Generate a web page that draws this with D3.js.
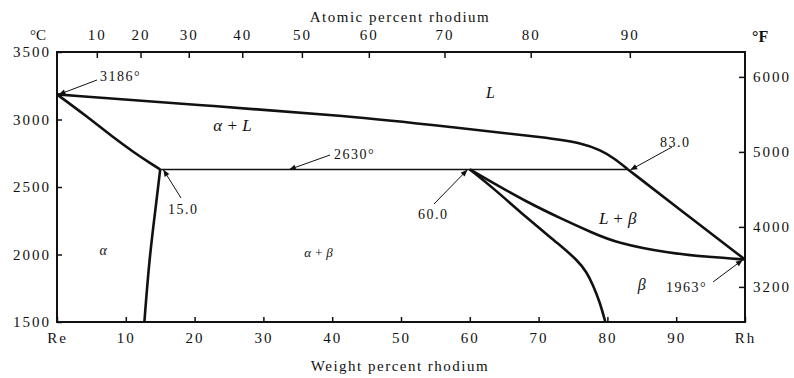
<!DOCTYPE html>
<html>
<head>
<meta charset="utf-8">
<script src="https://cdn.jsdelivr.net/npm/d3@7"></script>
<style>
  body { margin: 0; background: #fff; }
  svg text { font-family: "Liberation Serif", "DejaVu Serif", serif; fill: #111; }
</style>
</head>
<body>
<div id="chart"></div>
<script>
// phase boundaries, [weight % Rh, temperature °C]
var liquidusLeft = [[0, 3186], [21, 3106], [42.6, 3026], [57.2, 2944], [71.8, 2863], [76.1, 2826], [79.0, 2774], [80.9, 2715], [83.0, 2630]];
var liquidusRight = [[83.0, 2630], [91.1, 2310], [100, 1963]];
var alphaSolidus = [[0, 3186], [4.1, 3033], [8.1, 2870], [11.3, 2752], [13.5, 2678], [15.0, 2630]];
var alphaSolvus = [[15.0, 2630], [14.3, 2330], [13.4, 1959], [12.7, 1500]];
var betaSolidus = [[60.0, 2630], [63.4, 2530], [68.3, 2389], [73.1, 2270], [77.9, 2159], [81.4, 2085], [88.7, 2011], [94.9, 1981], [100, 1963]];
var betaSolvus = [[60.0, 2630], [63.4, 2493], [68.3, 2270], [73.1, 2070], [75.6, 1959], [77.0, 1870], [77.9, 1774], [78.9, 1648], [79.7, 1500]];
var peritectic = [[15.0, 2630], [83.0, 2630]];

var tempTicks = [1500, 2000, 2500, 3000, 3500];
var weightTicks = [0, 10, 20, 30, 40, 50, 60, 70, 80, 90, 100];
var atomicTicks = [10, 20, 30, 40, 50, 60, 70, 80, 90];
var fahrenheitTicks = [3200, 4000, 5000, 6000];

var massRe = 186.2, massRh = 102.9;

var width = 794, height = 378;
var svg = d3.select("#chart").append("svg")
  .attr("width", width)
  .attr("height", height);

var x = d3.scaleLinear().domain([0, 100]).range([57, 745]);
var y = d3.scaleLinear().domain([1500, 3500]).range([322, 52]);

// atomic % -> weight %
function atToWt(a) {
  return 100 * a * massRh / (a * massRh + (100 - a) * massRe);
}
function fToC(f) { return (f - 32) * 5 / 9; }

var tickFont = "15px";

// bottom axis: weight percent
var axBottom = svg.append("g")
  .attr("transform", "translate(0," + y(1500) + ")")
  .call(d3.axisBottom(x).tickValues(weightTicks)
    .tickSizeInner(-5).tickSizeOuter(0).tickPadding(10)
    .tickFormat(function (d) { return d == 0 ? "Re" : d == 100 ? "Rh" : d; }));

// left axis: °C
var axLeft = svg.append("g")
  .attr("transform", "translate(" + x(0) + ",0)")
  .call(d3.axisLeft(y).tickValues(tempTicks)
    .tickSizeInner(-5).tickSizeOuter(0).tickPadding(6)
    .tickFormat(d3.format("d")));

// top axis: atomic percent
var axTop = svg.append("g")
  .attr("transform", "translate(0," + y(3500) + ")")
  .call(d3.axisTop(x).tickValues(atomicTicks.map(atToWt))
    .tickSizeInner(-6).tickSizeOuter(0).tickPadding(12)
    .tickFormat(function (d, i) { return atomicTicks[i]; }));

// right axis: °F
var axRight = svg.append("g")
  .attr("transform", "translate(" + x(100) + ",0)")
  .call(d3.axisRight(y).tickValues(fahrenheitTicks.map(fToC))
    .tickSizeInner(-6).tickSizeOuter(0).tickPadding(8)
    .tickFormat(function (d, i) { return fahrenheitTicks[i]; }));

[axBottom, axLeft, axTop, axRight].forEach(function (g) {
  g.select(".domain").remove();
  g.selectAll(".tick line").attr("stroke", "#111").attr("stroke-width", 1.5);
  g.selectAll("text")
    .style("font-size", tickFont)
    .style("letter-spacing", "2px")
    .attr("fill", "#111");
});

// frame
svg.append("rect")
  .attr("x", x(0)).attr("y", y(3500))
  .attr("width", x(100) - x(0)).attr("height", y(1500) - y(3500))
  .attr("fill", "none").attr("stroke", "#111").attr("stroke-width", 2);

// boundaries
var line = d3.line()
  .x(function (d) { return x(d[0]); })
  .y(function (d) { return y(d[1]); })
  .curve(d3.curveBasis);

[liquidusLeft, liquidusRight, alphaSolidus, alphaSolvus, betaSolidus, betaSolvus].forEach(function (d) {
  svg.append("path")
    .datum(d)
    .attr("d", line)
    .attr("fill", "none")
    .attr("stroke", "#111")
    .attr("stroke-width", 2.6)
    .attr("stroke-linejoin", "round");
});

svg.append("path")
  .datum(peritectic)
  .attr("d", d3.line().x(function (d) { return x(d[0]); }).y(function (d) { return y(d[1]); }))
  .attr("stroke", "#111")
  .attr("stroke-width", 1.6);

// axis titles
svg.append("text").attr("x", 400).attr("y", 22).attr("text-anchor", "middle")
  .style("font-size", "15px").style("letter-spacing", "1.5px").text("Atomic percent rhodium");
svg.append("text").attr("x", 400).attr("y", 371).attr("text-anchor", "middle")
  .style("font-size", "15px").style("letter-spacing", "1.5px").text("Weight percent rhodium");
svg.append("text").attr("x", 46).attr("y", 40).attr("text-anchor", "end")
  .style("font-size", "15px").text("°C");
svg.append("text").attr("x", 752).attr("y", 42)
  .style("font-size", "16px").style("font-weight", "bold").text("°F");

// phase labels
var phases = [
  { t: "L", wt: 63, c: 3160, s: 16 },
  { t: "α + L", wt: 25.5, c: 2915, s: 17 },
  { t: "α", wt: 6.7, c: 2000, s: 14 },
  { t: "α + β", wt: 38, c: 1980, s: 13 },
  { t: "L + β", wt: 81.5, c: 2225, s: 17 },
  { t: "β", wt: 85, c: 1735, s: 16 }
];
svg.selectAll(".phase").data(phases).enter().append("text")
  .attr("class", "phase")
  .attr("x", function (d) { return x(d.wt); })
  .attr("y", function (d) { return y(d.c); })
  .attr("text-anchor", "middle")
  .style("font-style", "italic")
  .style("font-size", function (d) { return d.s + "px"; })
  .text(function (d) { return d.t; });

// annotations with arrows
svg.append("defs").append("marker")
  .attr("id", "arrow").attr("viewBox", "0 0 10 10")
  .attr("refX", 9).attr("refY", 5)
  .attr("markerWidth", 9).attr("markerHeight", 7)
  .attr("orient", "auto")
  .append("path").attr("d", "M0,1 L10,5 L0,9 z").attr("fill", "#111");

var notes = [
  { t: "3186°", tx: 100, ty: 81, x1: 97, y1: 80, wt: 0.3, c: 3186 },
  { t: "2630°", tx: 334, ty: 159, x1: 330, y1: 155, wt: 33.8, c: 2630 },
  { t: "15.0", tx: 168, ty: 214, x1: 181, y1: 198, wt: 15.5, c: 2625 },
  { t: "60.0", tx: 418, ty: 219, x1: 434, y1: 204, wt: 59.6, c: 2625 },
  { t: "83.0", tx: 660, ty: 147, x1: 672, y1: 147, wt: 83.4, c: 2628 },
  { t: "1963°", tx: 666, ty: 292, x1: 713, y1: 282, wt: 99.6, c: 1958 }
];
notes.forEach(function (n) {
  svg.append("line")
    .attr("x1", n.x1).attr("y1", n.y1)
    .attr("x2", x(n.wt)).attr("y2", y(n.c))
    .attr("stroke", "#111").attr("stroke-width", 1)
    .attr("marker-end", "url(#arrow)");
  svg.append("text")
    .attr("x", n.tx).attr("y", n.ty)
    .style("font-size", "14px")
    .style("letter-spacing", "1.5px")
    .text(n.t);
});
</script>
</body>
</html>
